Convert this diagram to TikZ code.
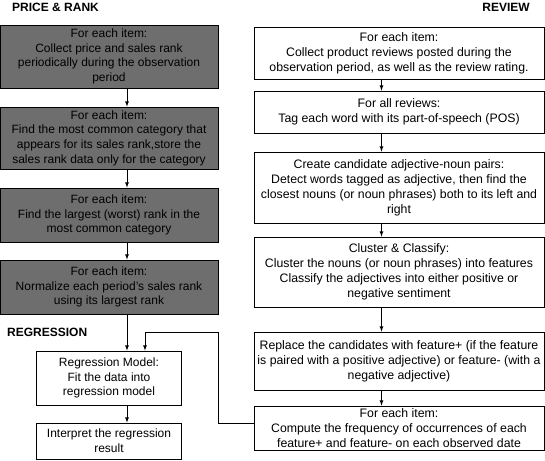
\documentclass[tikz,border=0pt]{standalone}
\usepackage{fontspec}
\setmainfont{Liberation Sans}
\usepackage{tikz}
\usetikzlibrary{shapes,arrows,positioning}
\definecolor{boxgray}{RGB}{110,110,110}
\tikzstyle{grayblock}=[rectangle, draw, align=center, fill=boxgray, line width=0.8pt, minimum width=218pt, inner sep=0pt, font=\fontsize{12}{14.7}\selectfont]
\tikzstyle{whiteblock}=[rectangle, draw, align=center, fill=white, line width=0.8pt, minimum width=145pt, inner sep=0pt, font=\fontsize{12}{14.7}\selectfont]
\tikzstyle{reviewblock}=[rectangle, draw, align=center, fill=white, line width=0.8pt, minimum width=290pt, inner sep=0pt, font=\fontsize{12.3}{15}\selectfont]
\tikzstyle{heading}=[font=\fontsize{12}{14}\selectfont\bfseries, inner sep=0pt]

\begin{document}
\begin{tikzpicture}[x=1pt, y=-1pt, >=latex]
\useasboundingbox (0,0) rectangle (545,460);

\node[heading, anchor=west] (h1) at (12,7) {PRICE \& RANK};
\node[heading, anchor=east] (h2) at (530,7) {REVIEW};
\node[heading, anchor=west] (h3) at (7,332) {REGRESSION};

\node[grayblock, minimum height=63pt] (p1) at (109,56.5) {For each item:\\Collect price and sales rank\\periodically during the observation\\period};
\node[grayblock, minimum height=62pt] (p2) at (109,138) {For each item:\\Find the most common category that\\appears for its sales rank,store the\\sales rank data only for the category};
\node[grayblock, minimum height=54pt] (p3) at (109,215) {For each item:\\Find the largest (worst) rank in the\\most common category};
\node[grayblock, minimum height=54pt] (p4) at (109,287) {For each item:\\Normalize each period’s sales rank\\using its largest rank};
\node[whiteblock, minimum height=54pt] (reg) at (109,378) {Regression Model:\\Fit the data into\\regression model};
\node[whiteblock, minimum height=36pt] (interp) at (109,441) {Interpret the regression\\result};

\node[reviewblock, minimum height=52pt] (r1) at (399,53) {For each item:\\Collect product reviews posted during the\\observation period, as well as the review rating.};
\node[reviewblock, minimum height=42pt] (r2) at (399,112) {For all reviews:\\Tag each word with its part-of-speech (POS)};
\node[reviewblock, minimum height=71pt] (r3) at (399,187.5) {Create candidate adjective-noun pairs:\\Detect words tagged as adjective, then find the\\closest nouns (or noun phrases) both to its left and\\right};
\node[reviewblock, minimum height=70pt] (r4) at (399,272) {Cluster \& Classify:\\Cluster the nouns (or noun phrases) into features\\Classify the adjectives into either positive or\\negative sentiment};
\node[reviewblock, minimum height=58pt] (r5) at (399,361) {Replace the candidates with feature+ (if the feature\\is paired with a positive adjective) or feature- (with a\\negative adjective)};
\node[reviewblock, minimum height=44pt] (r6) at (399,428) {For each item:\\Compute the frequency of occurrences of each\\feature+ and feature- on each observed date};

\coordinate (bend) at (218,332);

\draw[->,line width=0.8pt]([xshift=18pt]p1.south) -- ([xshift=18pt]p2.north);
\draw[->,line width=0.8pt]([xshift=18pt]p2.south) -- ([xshift=18pt]p3.north);
\draw[->,line width=0.8pt]([xshift=18pt]p3.south) -- ([xshift=18pt]p4.north);
\draw[->,line width=0.8pt]([xshift=18pt]p4.south) -- ([xshift=18pt]reg.north);
\draw[->,line width=0.8pt]([xshift=18pt]reg.south) -- ([xshift=18pt]interp.north);

\draw[->,line width=0.8pt]([xshift=-17.5pt]r1.south) -- ([xshift=-17.5pt]r2.north);
\draw[->,line width=0.8pt]([xshift=-17.5pt]r2.south) -- ([xshift=-17.5pt]r3.north);
\draw[->,line width=0.8pt]([xshift=-17.5pt]r3.south) -- ([xshift=-17.5pt]r4.north);
\draw[->,line width=0.8pt]([xshift=-17.5pt]r4.south) -- ([xshift=-17.5pt]r5.north);
\draw[->,line width=0.8pt]([xshift=-17.5pt]r5.south) -- ([xshift=-17.5pt]r6.north);

\draw[->,line width=0.8pt]([yshift=5pt]r6.west) -| (bend) -| ([xshift=36pt]reg.north);

\end{tikzpicture}
\end{document}
